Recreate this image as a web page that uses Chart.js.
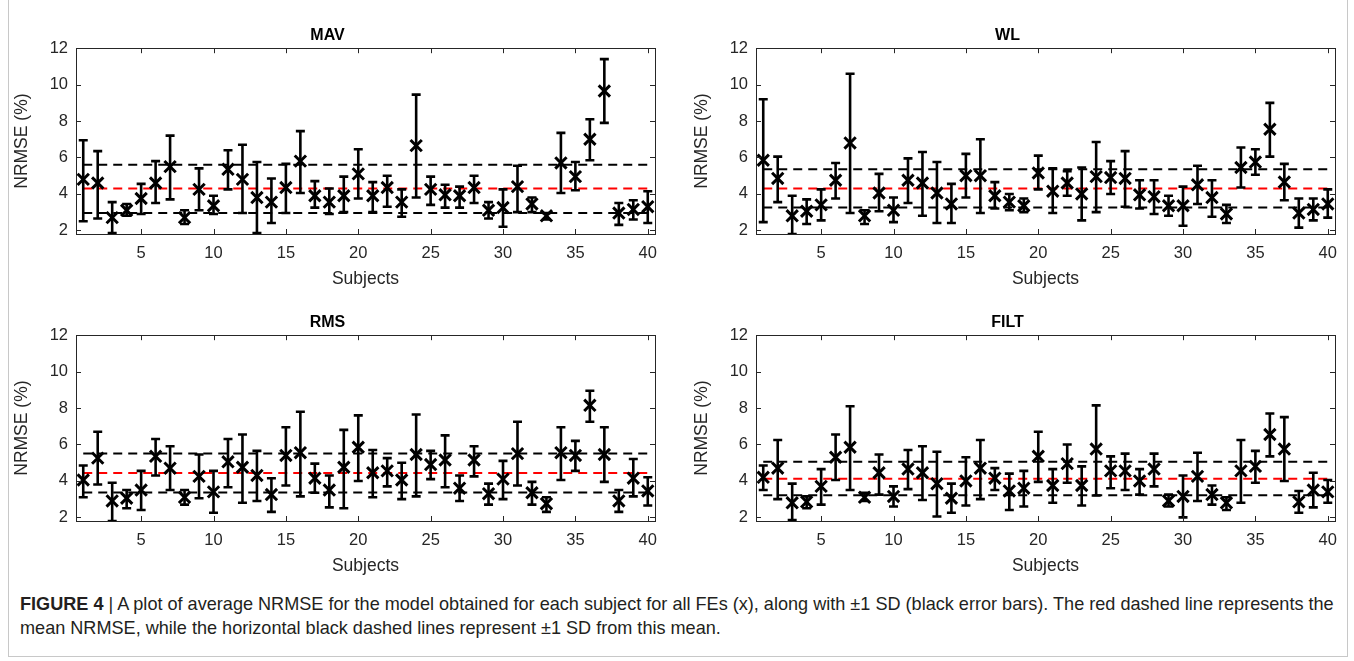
<!DOCTYPE html>
<html>
<head>
<meta charset="utf-8">
<script src="https://cdn.jsdelivr.net/npm/chart.js@4.4.1/dist/chart.umd.min.js"></script>
<style>
  html, body { margin: 0; padding: 0; background: #fff; }
  body { width: 1354px; height: 661px; position: relative; overflow: hidden; font-family: "Liberation Sans", Arial, sans-serif; }
  .frame { position: absolute; left: 8px; top: -1px; width: 1338px; height: 656px; border: 1px solid #c8c8c8; }
  canvas { position: absolute; }
  #caption { position: absolute; left: 20px; top: 592px; font-family: "Liberation Sans Narrow", "Arial Narrow", "Liberation Sans", sans-serif; font-size: 18.1px; line-height: 24px; color: #231f20; white-space: nowrap; }
  #caption b { font-weight: bold; }
</style>
</head>
<body>
<div class="frame"></div>
<canvas id="mavChart" width="670" height="280" style="left:0px;top:20px"></canvas>
<canvas id="wlChart" width="670" height="280" style="left:680px;top:20px"></canvas>
<canvas id="rmsChart" width="670" height="280" style="left:0px;top:307px"></canvas>
<canvas id="filtChart" width="670" height="280" style="left:680px;top:307px"></canvas>
<div id="caption"><b>FIGURE 4</b> | A plot of average NRMSE for the model obtained for each subject for all FEs (x), along with ±1 SD (black error bars). The red dashed line represents the<br>mean NRMSE, while the horizontal black dashed lines represent ±1 SD from this mean.</div>

<script>
// ---------- 데이터 ----------
const subjects = Array.from({ length: 40 }, (_, i) => i + 1);
const xTicks = [5, 10, 15, 20, 25, 30, 35, 40];
const yTicks = [2, 4, 6, 8, 10, 12];

const mavMean = [4.8, 4.6, 2.7, 3.1, 3.75, 4.6, 5.5, 2.7, 4.25, 3.35, 5.35, 4.8, 3.8, 3.55, 4.35, 5.8, 3.9, 3.55, 3.9, 5.1,
  3.9, 4.35, 3.55, 6.65, 4.25, 3.95, 3.9, 4.35, 3.1, 3.25, 4.4, 3.45, 2.8, 5.7, 4.95, 7.0, 9.65, 2.95, 3.15, 3.3];
const mavHigh = [6.95, 6.35, 3.55, 3.45, 4.55, 5.8, 7.2, 3.1, 5.4, 3.9, 6.4, 6.7, 5.75, 4.85, 5.65, 7.45, 4.7, 4.3, 4.95, 6.45,
  4.65, 5.0, 4.25, 9.45, 4.95, 4.5, 4.4, 5.0, 3.55, 4.25, 5.55, 3.8, 2.95, 7.35, 5.75, 8.1, 11.4, 3.5, 3.65, 4.15];
const mavLow = [2.5, 2.65, 1.85, 2.8, 2.9, 3.5, 3.7, 2.35, 3.1, 2.9, 4.25, 2.95, 1.85, 2.4, 2.95, 4.05, 3.25, 2.9, 3.0, 3.75,
  3.0, 3.3, 2.75, 3.8, 3.4, 3.25, 3.25, 3.5, 2.65, 2.2, 3.0, 3.0, 2.6, 4.05, 4.2, 5.85, 7.9, 2.3, 2.6, 2.4];
const mavRef = [4.3, 5.6, 2.95]; // 평균, +1SD, -1SD

const wlMean = [5.85, 4.85, 2.8, 3.05, 3.4, 4.75, 6.8, 2.8, 4.05, 3.1, 4.75, 4.6, 4.05, 3.45, 5.0, 5.0, 3.9, 3.55, 3.35, 5.15,
  4.15, 4.6, 4.0, 4.95, 4.9, 4.85, 3.95, 3.85, 3.35, 3.35, 4.5, 3.8, 2.9, 5.45, 5.75, 7.55, 4.65, 2.95, 3.15, 3.45];
const wlHigh = [9.2, 6.05, 3.9, 3.7, 4.25, 5.7, 10.6, 3.1, 5.1, 3.8, 5.95, 6.3, 5.75, 4.55, 6.2, 7.0, 4.65, 4.0, 3.75, 6.1,
  5.4, 5.25, 5.45, 6.85, 5.8, 6.35, 4.75, 4.75, 3.9, 4.4, 5.55, 4.75, 3.4, 6.55, 6.45, 9.0, 5.65, 3.75, 3.75, 4.25];
const wlLow = [2.45, 3.55, 1.8, 2.35, 2.55, 3.75, 2.95, 2.35, 3.05, 2.45, 3.5, 2.8, 2.4, 2.4, 3.8, 2.95, 3.2, 3.1, 3.0, 4.25,
  2.95, 3.9, 2.55, 3.0, 4.0, 3.3, 3.2, 2.9, 2.8, 2.25, 3.45, 2.75, 2.4, 4.35, 5.05, 6.05, 3.65, 2.15, 2.55, 2.7];
const wlRef = [4.3, 5.35, 3.25];

const rmsMean = [4.05, 5.25, 2.9, 3.05, 3.5, 5.35, 4.7, 3.1, 4.25, 3.4, 5.05, 4.75, 4.3, 3.25, 5.4, 5.55, 4.15, 3.5, 4.75, 5.85,
  4.45, 4.55, 4.05, 5.45, 4.9, 5.15, 3.6, 5.15, 3.3, 4.1, 5.5, 3.35, 2.75, 5.55, 5.4, 8.15, 5.45, 2.9, 4.15, 3.45];
const rmsHigh = [4.85, 6.7, 3.9, 3.5, 4.55, 6.3, 5.9, 3.5, 5.45, 4.55, 6.3, 6.55, 5.65, 4.15, 6.95, 7.8, 4.95, 4.3, 6.8, 7.6,
  5.7, 5.25, 5.0, 7.65, 5.65, 6.5, 4.3, 5.9, 3.85, 5.1, 7.25, 3.95, 3.1, 6.95, 6.2, 8.95, 6.95, 3.5, 5.2, 4.2];
const rmsLow = [3.1, 3.8, 1.8, 2.5, 2.4, 4.3, 3.5, 2.7, 3.05, 2.25, 3.65, 2.8, 2.9, 2.3, 3.75, 3.15, 3.35, 2.55, 2.5, 4.0,
  3.1, 3.7, 3.0, 3.15, 4.1, 3.65, 2.9, 4.25, 2.7, 3.0, 3.75, 2.7, 2.3, 4.05, 4.55, 7.25, 3.95, 2.3, 3.15, 2.65];
const rmsRef = [4.44, 5.5, 3.37];

const filtMean = [4.2, 4.7, 2.8, 2.85, 3.7, 5.3, 5.85, 3.1, 4.45, 3.15, 4.65, 4.45, 3.85, 3.05, 4.0, 4.7, 4.15, 3.45, 3.6, 5.35,
  3.75, 4.95, 3.75, 5.75, 4.55, 4.55, 4.0, 4.65, 2.9, 3.15, 4.25, 3.25, 2.8, 4.55, 4.8, 6.55, 5.75, 2.85, 3.5, 3.4];
const filtHigh = [4.85, 6.25, 3.85, 3.15, 4.65, 6.55, 8.1, 3.35, 5.45, 3.7, 5.7, 5.9, 5.6, 3.85, 5.3, 6.25, 4.7, 4.4, 4.55, 6.7,
  4.65, 6.0, 4.8, 8.15, 5.35, 5.5, 4.65, 5.5, 3.25, 4.3, 5.55, 3.75, 3.1, 6.25, 5.65, 7.7, 7.5, 3.45, 4.45, 4.05];
const filtLow = [3.5, 3.0, 1.85, 2.5, 2.7, 4.05, 3.5, 2.9, 3.25, 2.6, 3.55, 2.95, 2.05, 2.25, 2.65, 3.0, 3.5, 2.4, 2.6, 3.95,
  2.8, 3.9, 2.65, 3.2, 3.6, 3.5, 3.25, 3.7, 2.6, 2.0, 2.9, 2.7, 2.4, 2.8, 3.9, 5.35, 4.0, 2.25, 2.55, 2.8];
const filtRef = [4.12, 5.05, 3.21];

// ---------- 스타일 ----------
const AXIS_COLOR = "#262626";
const FONT = "'Liberation Sans', Arial, sans-serif";

Chart.defaults.font.family = FONT;
Chart.defaults.color = AXIS_COLOR;

// 에러바 + MATLAB 스타일 박스/안쪽 눈금
const errorBarPlugin = {
  id: "errorBars",
  afterDatasetsDraw(chart, args, opts) {
    const { ctx, chartArea: a, scales: { x, y } } = chart;
    ctx.save();
    ctx.beginPath();
    ctx.rect(a.left, a.top, a.right - a.left, a.bottom - a.top);
    ctx.clip();
    ctx.strokeStyle = "#000";
    ctx.lineWidth = 2.6;
    ctx.lineCap = "butt";
    opts.low.forEach((lo, i) => {
      const px = x.getPixelForValue(subjects[i]);
      const pLo = y.getPixelForValue(lo);
      const pHi = y.getPixelForValue(opts.high[i]);
      ctx.beginPath();
      ctx.moveTo(px, pLo); ctx.lineTo(px, pHi);
      ctx.moveTo(px - 4.5, pLo); ctx.lineTo(px + 4.5, pLo);
      ctx.moveTo(px - 4.5, pHi); ctx.lineTo(px + 4.5, pHi);
      ctx.stroke();
    });
    ctx.restore();
  },
  afterDraw(chart) {
    const { ctx, chartArea: a, scales: { x, y } } = chart;
    ctx.save();
    ctx.strokeStyle = AXIS_COLOR;
    ctx.lineWidth = 1;
    ctx.strokeRect(Math.round(a.left) + 0.5, Math.round(a.top) + 0.5, Math.round(a.right - a.left), Math.round(a.bottom - a.top));
    ctx.beginPath();
    x.ticks.forEach((t) => {
      const px = Math.round(x.getPixelForValue(t.value)) + 0.5;
      ctx.moveTo(px, a.bottom); ctx.lineTo(px, a.bottom - 5);
      ctx.moveTo(px, a.top); ctx.lineTo(px, a.top + 5);
    });
    y.ticks.forEach((t) => {
      const py = Math.round(y.getPixelForValue(t.value)) + 0.5;
      ctx.moveTo(a.left, py); ctx.lineTo(a.left + 5, py);
      ctx.moveTo(a.right, py); ctx.lineTo(a.right - 5, py);
    });
    ctx.stroke();
    ctx.restore();
  }
};

function refLine(value, color) {
  return {
    type: "line",
    data: [{ x: subjects[0], y: value }, { x: subjects[subjects.length - 1], y: value }],
    borderColor: color,
    borderWidth: 2,
    borderDash: [9, 6],
    pointRadius: 0,
    fill: false,
    order: 2
  };
}

function makePanel(canvasId, title, mean, high, low, ref) {
  new Chart(document.getElementById(canvasId), {
    type: "scatter",
    data: {
      datasets: [
        refLine(ref[1], "#000"),
        refLine(ref[2], "#000"),
        refLine(ref[0], "#ff0000"),
        {
          data: subjects.map((s, i) => ({ x: s, y: mean[i] })),
          pointStyle: "crossRot",
          pointRadius: 8,
          borderColor: "#000",
          borderWidth: 3,
          order: 1
        }
      ]
    },
    options: {
      responsive: false,
      animation: false,
      devicePixelRatio: 1,
      layout: { padding: { left: 0, right: 15, top: 0, bottom: 0 } },
      plugins: {
        legend: { display: false },
        tooltip: { enabled: false },
        title: {
          display: true,
          text: title,
          color: "#000",
          font: { size: 16, weight: "bold" },
          padding: { top: 6, bottom: 3 }
        },
        errorBars: { high, low }
      },
      scales: {
        x: {
          type: "linear",
          min: 0.5,
          max: 40.5,
          grid: { display: false, drawTicks: false },
          border: { display: false },
          afterBuildTicks: (s) => { s.ticks = xTicks.map((v) => ({ value: v })); },
          afterFit: (s) => { s.height = 66; },
          ticks: { padding: 10, font: { size: 16.5 }, color: AXIS_COLOR, maxRotation: 0 },
          title: { display: true, text: "Subjects", font: { size: 17.5 }, color: AXIS_COLOR, padding: { top: 0, bottom: 10 } }
        },
        y: {
          min: 1.8,
          max: 12,
          grid: { display: false, drawTicks: false },
          border: { display: false },
          afterBuildTicks: (s) => { s.ticks = yTicks.map((v) => ({ value: v })); },
          afterFit: (s) => { s.width = 76; },
          ticks: { padding: 8, font: { size: 16.5 }, color: AXIS_COLOR },
          title: { display: true, text: "NRMSE (%)", font: { size: 17.5 }, color: AXIS_COLOR, padding: { top: 12, bottom: 0 } }
        }
      }
    },
    plugins: [errorBarPlugin]
  });
}

makePanel("mavChart", "MAV", mavMean, mavHigh, mavLow, mavRef);
makePanel("wlChart", "WL", wlMean, wlHigh, wlLow, wlRef);
makePanel("rmsChart", "RMS", rmsMean, rmsHigh, rmsLow, rmsRef);
makePanel("filtChart", "FILT", filtMean, filtHigh, filtLow, filtRef);
</script>
</body>
</html>
